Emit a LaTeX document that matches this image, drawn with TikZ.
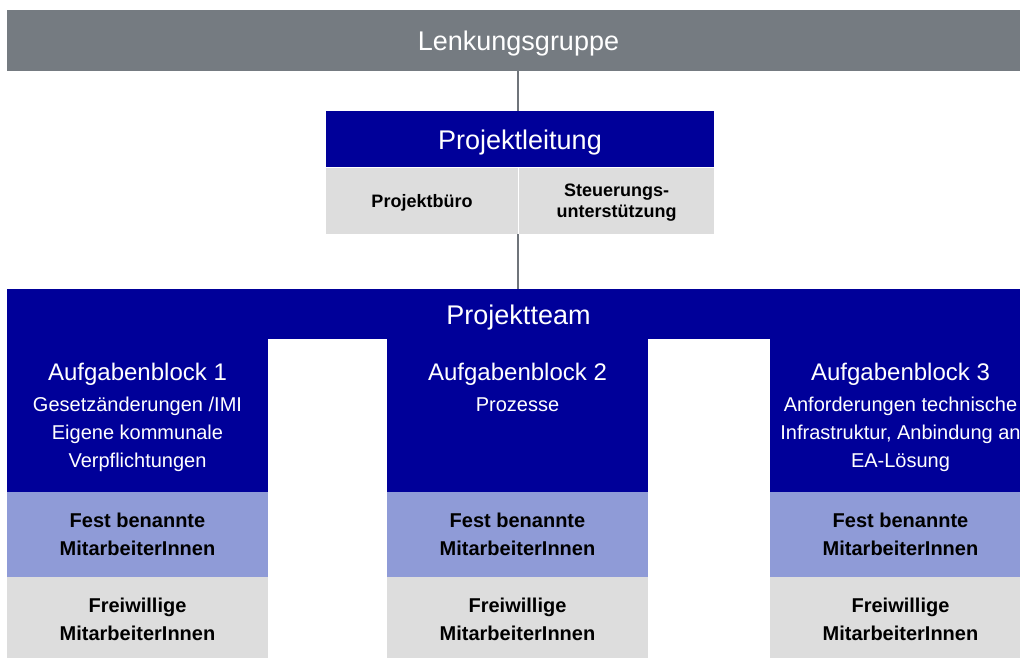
\documentclass[tikz,border=0pt]{standalone}
\usepackage{fontspec}
\setmainfont{Liberation Sans}
\usetikzlibrary{calc}
\usetikzlibrary{graphs}
\usetikzlibrary{positioning}

\definecolor{leitblau}{HTML}{000099}
\definecolor{balkengrau}{HTML}{757B81}
\definecolor{hellblau}{HTML}{8F9BD7}
\definecolor{hellgrau}{HTML}{DDDDDD}
\definecolor{liniengrau}{HTML}{6F747A}

\begin{document}
\begin{tikzpicture}[x=1pt, y=-1pt,
        every node/.style={inner sep=0pt, outer sep=0pt, anchor=north west},
        head/.style={text=white, text height=20pt, text depth=0pt, font=\fontsize{27}{32}\selectfont},
        office/.style={fill=hellgrau, minimum height=66pt, text depth=0pt, align=center, font=\bfseries\fontsize{18}{21}\selectfont},
        column/.style={fill=leitblau, minimum width=261pt, minimum height=153pt},
        blocktitle/.style={anchor=north, text=white, align=center, font=\fontsize{20}{28}\selectfont},
        staff/.style={minimum width=261pt, minimum height=85pt, text depth=0pt, align=center, font=\bfseries\fontsize{20}{28}\selectfont}]
        \useasboundingbox (0,0) rectangle (1020,657);
        \clip (0,0) rectangle (1020,657);

        \node[head, fill=balkengrau, minimum width=1023pt, minimum height=61pt] (lenkung) at (7,10) {Lenkungsgruppe};

        \node[head, fill=leitblau, minimum width=388pt, minimum height=56pt] (leitung) at (326,111) {Projektleitung};
        \node[office, minimum width=192pt, below right=1pt and 0pt of leitung.south west] (buero) {Projektb\"uro};
        \node[office, minimum width=195pt, right=1pt of buero] (steuerung) {Steuerungs-\\unterst\"utzung};

        \node[head, fill=leitblau, minimum width=1023pt, minimum height=50pt] (team) at (7,289) {Projektteam};

        % Aufgabenbloecke
        \node[column] (block1) at (team.south west) {};
        \node[column, right=119pt of block1] (block2) {};
        \node[column, right=122pt of block2] (block3) {};

        \node[blocktitle, below=24pt of block1.north] (title1) {{\fontsize{24}{28}\selectfont Aufgabenblock 1}\\[3pt]Gesetz\"anderungen /IMI\\Eigene kommunale\\Verpflichtungen};
        \node[blocktitle, below=24pt of block2.north] (title2) {{\fontsize{24}{28}\selectfont Aufgabenblock 2}\\[3pt]Prozesse};
        \node[blocktitle, below=24pt of block3.north] (title3) {{\fontsize{24}{28}\selectfont Aufgabenblock 3}\\[3pt]Anforderungen technische\\Infrastruktur, Anbindung an\\EA-L\"osung};

        % MitarbeiterInnen
        \foreach \i in {1,2,3} {
            \node[staff, fill=hellblau, below=0pt of block\i] (fest\i) {Fest benannte\\MitarbeiterInnen};
            \node[staff, fill=hellgrau, below=0pt of fest\i] (frei\i) {Freiwillige\\MitarbeiterInnen};
        }

        \coordinate (lenkung port) at (lenkung.south -| buero.east);
        \coordinate (leitung port) at (leitung.north -| buero.east);
        \coordinate (team port) at (team.north -| buero.east);

        \graph { [edges={draw, line width=2pt, color=liniengrau}]
            (lenkung port) -- (leitung port),
            (buero.south east) -- (team port),
        };
    \end{tikzpicture}
\end{document}
